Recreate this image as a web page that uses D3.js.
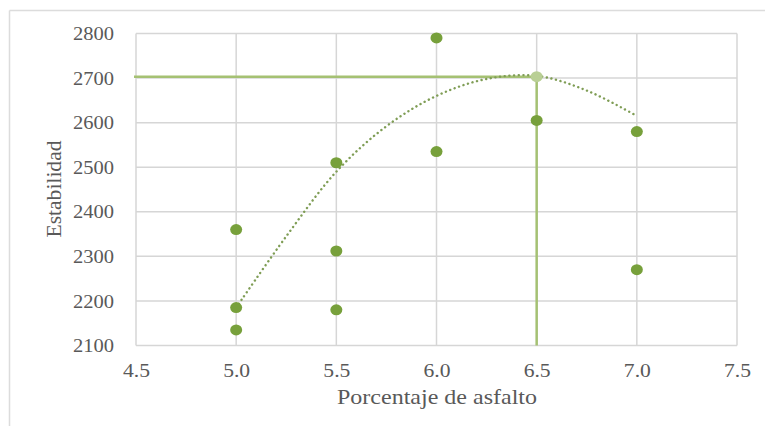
<!DOCTYPE html>
<html><head><meta charset="utf-8">
<script src="https://cdn.jsdelivr.net/npm/d3@7/dist/d3.min.js"></script>
<style>body{margin:0;background:#fff}svg{display:block}</style>
</head><body>
<script>
// Data
const pctX = [5.0, 5.0, 5.0, 5.5, 5.5, 5.5, 6.0, 6.0, 6.5, 7.0, 7.0];
const estabilidad = [2360, 2185, 2135, 2510, 2312, 2180, 2790, 2535, 2605, 2580, 2270];
const trendX = [5.0, 5.25, 5.5, 5.75, 6.0, 6.25, 6.5, 6.75, 7.0];
const trendY = [2185, 2345, 2490, 2592, 2660, 2698, 2705, 2672, 2615];
const optimum = {x: 6.5, y: 2703};
const xTicks = [4.5, 5.0, 5.5, 6.0, 6.5, 7.0, 7.5];
const yTicks = [2100, 2200, 2300, 2400, 2500, 2600, 2700, 2800];

const W = 765, H = 426;
const svg = d3.select("body").append("svg").attr("width", W).attr("height", H);

// outer frame (top and left visible)
svg.append("line").attr("x1", 9.5).attr("x2", W).attr("y1", 10.5).attr("y2", 10.5)
  .attr("stroke", "#dcdcdc").attr("stroke-width", 1.5);
svg.append("line").attr("x1", 9.5).attr("x2", 9.5).attr("y1", 10.5).attr("y2", H)
  .attr("stroke", "#dcdcdc").attr("stroke-width", 1.5);

const x = d3.scaleLinear().domain([4.5, 7.5]).range([136, 737]);
const y = d3.scaleLinear().domain([2100, 2800]).range([345.5, 33.5]);

const grid = svg.append("g");
grid.selectAll(".gx").data(xTicks).join("line")
  .attr("x1", d => x(d)).attr("x2", d => x(d)).attr("y1", y(2800)).attr("y2", y(2100))
  .attr("stroke", "#d6d6d6").attr("stroke-width", 1.5);
grid.selectAll(".gy").data(yTicks).join("line")
  .attr("x1", x(4.5)).attr("x2", x(7.5)).attr("y1", d => y(d)).attr("y2", d => y(d))
  .attr("stroke", "#d6d6d6").attr("stroke-width", 1.5);

// axes (labels only)
const fontSerif = "'Liberation Serif','Times New Roman','DejaVu Serif',serif";
const yAxis = svg.append("g").attr("transform", `translate(${x(4.5) - 19},0)`)
  .call(d3.axisLeft(y).tickValues(yTicks).tickSize(0).tickFormat(d3.format("d")));
yAxis.select(".domain").remove();
yAxis.selectAll("text").attr("font-family", fontSerif).attr("font-size", 19)
  .attr("fill", "#595959").attr("textLength", 41).attr("lengthAdjust", "spacingAndGlyphs");

const xAxis = svg.append("g").attr("transform", `translate(0,${y(2100) + 15})`)
  .call(d3.axisBottom(x).tickValues(xTicks).tickSize(0).tickFormat(d3.format(".1f")));
xAxis.select(".domain").remove();
xAxis.selectAll("text").attr("font-family", fontSerif).attr("font-size", 19)
  .attr("fill", "#595959").attr("textLength", 27).attr("lengthAdjust", "spacingAndGlyphs");

// reference lines at optimum
const refColor = "#a5c173";
svg.append("line").attr("x1", x(4.5) - 2).attr("x2", x(optimum.x))
  .attr("y1", y(optimum.y)).attr("y2", y(optimum.y))
  .attr("stroke", refColor).attr("stroke-width", 2.5);
svg.append("line").attr("x1", x(optimum.x)).attr("x2", x(optimum.x))
  .attr("y1", y(optimum.y)).attr("y2", y(2100))
  .attr("stroke", refColor).attr("stroke-width", 2.5);

// trend line
const line = d3.line().x(d => x(d[0])).y(d => y(d[1])).curve(d3.curveCatmullRom);
svg.append("path").datum(d3.zip(trendX, trendY)).attr("d", line)
  .attr("fill", "none").attr("stroke", "#7f9d55").attr("stroke-width", 2.4)
  .attr("stroke-linecap", "round").attr("stroke-dasharray", "0.1,4.6");

// points
svg.selectAll(".pt").data(d3.zip(pctX, estabilidad)).join("ellipse")
  .attr("cx", d => x(d[0])).attr("cy", d => y(d[1])).attr("rx", 6).attr("ry", 5.5)
  .attr("fill", "#77a03b");

svg.append("ellipse").attr("cx", x(optimum.x)).attr("cy", y(optimum.y))
  .attr("rx", 6).attr("ry", 5.5).attr("fill", "#b9cf95");

// titles
svg.append("text").attr("x", 437).attr("y", 404).attr("text-anchor", "middle")
  .attr("font-family", fontSerif).attr("font-size", 21).attr("fill", "#595959")
  .attr("textLength", 200).attr("lengthAdjust", "spacingAndGlyphs")
  .text("Porcentaje de asfalto");
svg.append("text").attr("transform", `translate(61,189) rotate(-90)`)
  .attr("text-anchor", "middle")
  .attr("font-family", fontSerif).attr("font-size", 20).attr("fill", "#595959")
  .attr("textLength", 97).attr("lengthAdjust", "spacingAndGlyphs")
  .text("Estabilidad");
</script>
</body></html>
